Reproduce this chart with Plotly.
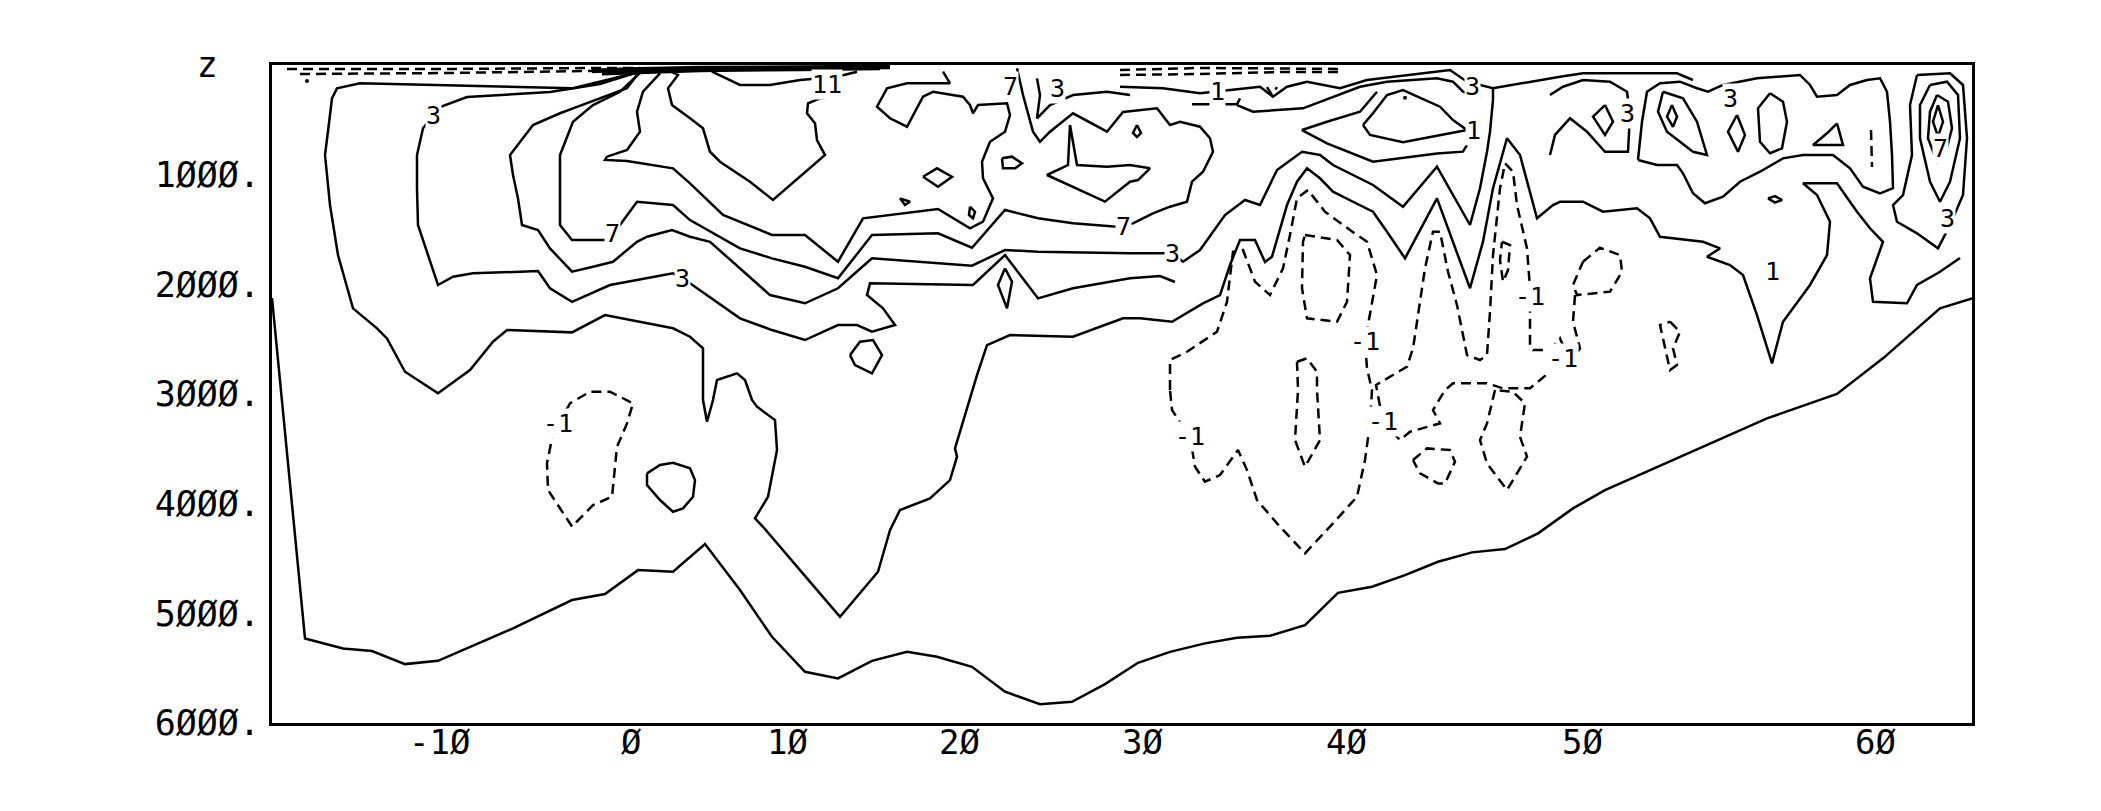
import plotly.graph_objects as go

# ---------------- axes data ----------------
# x = along-section distance (arbitrary units, 0..170); ticks carry the latitude of the stations
LAT_TICK_POS = [16.7, 35.9, 51.5, 68.7, 87.0, 107.4, 131.0, 160.3]
LAT_TICK_TEXT = ["-1Ø", "Ø", "1Ø", "2Ø", "3Ø", "4Ø", "5Ø", "6Ø"]
DEPTH_TICKS = [0, 1000, 2000, 3000, 4000, 5000, 6000]
DEPTH_TEXT = ["z\u00a0\u00a0", "1ØØØ.", "2ØØØ.", "3ØØØ.", "4ØØØ.", "5ØØØ.", "6ØØØ."]

# ---------------- contour lines (distance, depth m) ----------------
bottom = [(0, 2125), (0.97, 3055), (3.3, 5229), (7.1, 5320), (10.0, 5344), (13.3, 5463), (16.6, 5433),
          (24.1, 5137), (30.0, 4879), (33.3, 4824), (36.6, 4606), (40.1, 4621), (43.3, 4368), (46.8, 4788),
          (50.0, 5214), (53.3, 5533), (56.6, 5593), (60.0, 5433), (63.5, 5351), (66.5, 5396), (70.0, 5488),
          (73.3, 5715), (76.8, 5828), (80.0, 5807), (83.3, 5645), (86.6, 5451), (89.8, 5351), (93.3, 5274),
          (96.5, 5223), (99.8, 5205), (103.3, 5107), (106.6, 4813), (110.0, 4758), (113.3, 4651),
          (116.6, 4530), (120.0, 4444), (123.3, 4414), (126.6, 4271), (130.1, 4043), (133.3, 3876),
          (140.1, 3602), (149.5, 3222), (156.5, 3000), (161.1, 2675), (166.8, 2219), (170.0, 2128)]

c1_outer = [(37.1, 61), (35.5, 91), (30.1, 212), (20.8, 192), (8.8, 167), (6.5, 212), (6.0, 304), (5.8, 456),
            (5.3, 821), (5.8, 1277), (6.6, 1733), (8.1, 2219), (10.5, 2401), (11.5, 2493), (13.3, 2797),
            (16.6, 2994), (19.8, 2782), (22.1, 2523), (23.5, 2417), (30.0, 2438), (33.3, 2280), (40.1, 2401),
            (41.8, 2478), (43.1, 2584), (43.1, 3055), (43.5, 3253), (44.1, 3055), (44.5, 2873), (46.5, 2812),
            (47.3, 2873), (48.0, 3055), (48.5, 3116), (50.3, 3238), (50.5, 3511), (49.6, 3937), (48.3, 4134),
            (49.1, 4211), (52.8, 4606), (56.8, 5031), (60.6, 4621), (61.8, 4241), (62.8, 4058), (65.8, 3952),
            (67.8, 3785), (68.5, 3572), (68.3, 3496), (70.0, 2964), (70.5, 2827), (71.5, 2554), (73.8, 2462),
            (80.1, 2478), (85.1, 2310), (86.8, 2310), (90.0, 2341), (93.1, 2173), (94.8, 2098), (95.8, 1824),
            (96.8, 1596), (98.3, 1596), (99.3, 1797), (100.0, 1748), (101.5, 1277), (102.5, 1064),
            (103.5, 942), (104.8, 1033), (106.1, 1155), (108.1, 1247), (110.1, 1338), (111.5, 1520),
            (113.3, 1763), (116.5, 1216), (119.8, 2036), (121.1, 1611), (122.1, 1124), (123.5, 668),
            (124.8, 821), (126.5, 1398), (128.1, 1277), (128.8, 1247), (131.1, 1247), (133.1, 1338),
            (136.5, 1307), (137.8, 1398), (138.8, 1566), (143.1, 1612), (144.8, 1672), (143.5, 1748),
            (145.8, 1824), (147.1, 1915), (148.5, 2280), (150.0, 2721), (151.1, 2341), (153.8, 2006),
            (155.5, 1733), (155.8, 1429), (154.5, 1186), (153.1, 1079), (156.5, 1079), (158.5, 1338),
            (159.8, 1489), (161.1, 1612), (159.8, 1945), (160.1, 2159), (163.5, 2173), (164.5, 2006),
            (166.8, 1885), (168.8, 1760)]

c3_main = [(36.3, 73), (32.8, 173), (27.8, 246), (19.5, 292), (16.8, 383), (15.1, 577), (14.5, 821),
           (14.5, 1124), (14.6, 1459), (15.5, 1703), (16.6, 2006), (18.1, 1931), (20.1, 1900), (26.6, 1879),
           (27.8, 2036), (30.0, 2159), (33.8, 2006), (40.1, 1900), (41.8, 1991), (46.8, 2310), (50.0, 2417),
           (53.3, 2508), (56.6, 2371), (58.5, 2371), (60.0, 2432), (62.3, 2371), (61.1, 2219), (59.5, 2098),
           (59.8, 1991), (70.1, 2006), (73.3, 1733), (76.6, 2128), (80.1, 2036), (85.8, 1945), (88.8, 1924),
           (90.3, 1979)]

c5_line = [(36.5, 91), (35.5, 212), (30.1, 395), (28.8, 440), (26.1, 547), (24.8, 700), (23.8, 821),
           (24.1, 1003), (24.6, 1216), (25.0, 1459), (26.6, 1505), (27.8, 1672), (30.0, 1885), (32.1, 1840),
           (34.1, 1794), (36.5, 1612), (37.5, 1566), (40.0, 1505), (41.8, 1566), (43.8, 1612), (46.8, 1854),
           (49.8, 2098), (53.3, 2173), (56.6, 2036), (60.0, 1763), (70.0, 1830), (73.3, 1687), (76.6, 1703),
           (85.8, 1717), (86.6, 1717), (90.0, 1717), (91.1, 1794), (92.8, 1687), (95.3, 1368), (97.3, 1231),
           (98.8, 1277), (100.5, 958), (103.0, 791), (104.8, 821), (106.1, 912), (108.1, 1003),
           (110.1, 1094), (113.1, 1292), (116.5, 927), (119.8, 1459), (120.8, 1124), (121.5, 791),
           (121.8, 608), (122.1, 319), (122.1, 210)]

c7_line = [(37.1, 46), (34.8, 244), (32.1, 365), (30.1, 517), (28.8, 821), (28.8, 1459), (30.0, 1596),
           (33.8, 1596), (34.8, 1459), (36.5, 1247), (40.1, 1277), (41.8, 1414), (46.8, 1672), (50.0, 1763),
           (53.3, 1840), (56.6, 1945), (60.0, 1550), (66.6, 1535), (70.0, 1666), (73.3, 1322), (76.6, 1398),
           (80.1, 1444), (84.5, 1475), (86.1, 1444), (88.1, 1352), (89.8, 1292), (91.5, 1247), (91.8, 1124),
           (92.0, 1064), (93.1, 973), (94.1, 791), (93.8, 668), (92.8, 563), (90.8, 517), (89.8, 547),
           (88.5, 395), (86.8, 410), (85.1, 429), (83.5, 608), (80.1, 441), (77.8, 608), (76.8, 700),
           (76.1, 608), (75.1, 274), (74.5, 30)]

c9_line = [(38.8, 76), (37.1, 244), (36.5, 426), (36.8, 608), (35.5, 775), (33.5, 836), (33.3, 866),
           (35.5, 876), (40.1, 942), (41.8, 1079), (45.1, 1368), (50.0, 1550), (53.3, 1550), (56.6, 1794),
           (59.1, 1398), (66.6, 1313), (69.8, 1489), (71.1, 1429), (72.1, 1216), (71.1, 1033), (71.0, 882),
           (71.8, 700), (73.3, 608), (73.8, 456), (73.5, 349), (70.6, 365), (70.1, 440), (69.8, 365),
           (69.1, 289), (66.1, 244), (65.1, 289), (63.5, 563), (61.8, 486), (60.5, 380), (61.5, 213),
           (63.5, 167), (67.8, 167), (67.1, 61)]

c11_line = [(39.6, 46), (40.6, 91), (39.6, 212), (40.0, 365), (41.8, 486), (43.1, 577), (43.8, 791),
            (44.8, 882), (47.8, 1064), (50.1, 1231), (55.3, 821), (54.5, 684), (54.3, 532), (53.5, 440),
            (53.6, 349), (54.8, 304), (56.6, 292)]

top_loop = [(44.0, 61), (46.8, 182), (49.8, 182), (52.8, 137), (56.5, 107), (58.5, 61)]
top_band_a = [(32.0, 55), (35.5, 40), (42.8, 27), (52.8, 18), (61.8, 18)]
top_band_b = [(33.0, 75), (36.8, 64), (42.8, 46), (52.8, 36), (60.8, 27)]

g2_line = [(76.5, 122), (76.8, 274), (76.5, 486), (77.8, 365), (80.1, 274), (83.5, 244), (85.8, 274)]
spike_tongue = [(79.8, 547), (80.5, 912), (83.5, 927), (85.8, 912), (87.8, 942), (86.6, 1049), (85.8, 1064),
                (83.3, 1246), (77.5, 1003), (79.6, 912), (79.8, 547)]

u1_line = [(84.8, 198), (89.1, 212), (92.8, 258), (95.8, 228), (98.8, 198), (100.1, 289), (101.5, 198),
           (103.5, 152), (106.8, 212), (109.5, 137), (117.8, 46), (119.5, 152), (122.1, 212), (128.8, 107),
           (131.1, 76), (140.5, 76), (142.1, 137)]
u2_line = [(92.0, 358), (96.5, 358), (96.8, 304)]
u3_line = [(96.5, 365), (98.1, 426), (103.1, 395), (106.5, 274), (108.8, 198), (111.5, 152), (116.5, 121),
           (118.1, 152), (119.1, 243), (120.8, 304)]
tongue_1 = [(110.5, 244), (108.8, 426), (105.5, 517), (103.0, 593), (105.5, 714), (110.1, 882), (116.5, 806),
            (119.1, 790), (119.8, 684)]
dot_loop = [(109.1, 547), (110.1, 440), (111.5, 274), (113.1, 228), (116.8, 380), (118.1, 502),
            (119.5, 593), (113.1, 705), (109.8, 638), (109.1, 547)]

north_loop = [(136.6, 866), (138.5, 912), (140.5, 912), (141.1, 988), (142.1, 1170), (143.3, 1261),
              (145.1, 1201), (146.8, 1064), (148.8, 973), (151.1, 851), (153.1, 821), (156.1, 821),
              (157.8, 942), (159.1, 1110), (160.8, 1170), (162.1, 1124), (162.0, 821), (161.8, 517),
              (161.5, 244), (160.8, 121), (159.5, 137), (157.8, 182), (156.5, 274), (154.5, 289),
              (153.8, 182), (152.8, 91), (148.5, 121), (145.1, 182), (143.6, 244), (142.5, 212),
              (140.8, 152), (138.8, 167), (137.5, 244), (137.0, 517), (136.6, 866)]
west_lobe = [(127.8, 821), (128.3, 638), (129.8, 486), (131.5, 608), (133.3, 791), (135.6, 791),
             (135.8, 456), (135.5, 244), (133.8, 152), (131.1, 137), (129.1, 198), (127.8, 274)]

peak_a = [(164.5, 91), (167.8, 76), (169.1, 182), (169.5, 668), (169.1, 1186), (167.8, 1459), (166.6, 1672),
          (164.5, 1535), (162.5, 1429), (162.1, 1277), (163.1, 1186), (164.0, 821), (163.8, 365), (164.5, 91)]
peak_b = [(165.8, 182), (167.5, 152), (168.6, 274), (168.8, 668), (167.8, 1064), (166.8, 1247),
          (165.8, 1064), (164.8, 668), (164.8, 365), (165.8, 182)]
peak_c = [(166.5, 274), (167.6, 335), (168.0, 577), (167.3, 821), (166.5, 882), (165.6, 668), (165.8, 426),
          (166.5, 274)]
peak_d = [(166.6, 365), (167.1, 517), (166.6, 654), (166.1, 517), (166.6, 365)]

small_solid = [
    [(37.5, 3724), (38.8, 3648), (40.1, 3627), (41.8, 3678), (42.3, 3785), (42.1, 3937), (41.1, 4043),
     (40.1, 4074), (38.8, 3967), (37.5, 3830), (37.5, 3724)],
    [(65.1, 1019), (66.5, 942), (68.0, 1019), (66.6, 1110), (65.1, 1019)],
    [(62.8, 1216), (63.8, 1247), (63.3, 1277), (62.8, 1216)],
    [(69.8, 1292), (70.3, 1338), (70.1, 1398), (69.7, 1368), (69.8, 1292)],
    [(73.0, 851), (74.0, 836), (75.0, 897), (74.3, 942), (73.1, 942), (73.0, 851)],
    [(57.8, 2645), (58.8, 2523), (60.1, 2508), (61.0, 2645), (60.0, 2812), (58.3, 2736), (57.8, 2645)],
    [(73.3, 1854), (74.0, 1976), (73.5, 2219), (72.6, 2006), (73.3, 1854)],
    [(86.5, 547), (86.9, 620), (86.5, 657), (86.1, 620), (86.5, 547)],
    [(133.3, 365), (134.1, 517), (133.3, 638), (132.1, 471), (133.3, 365)],
    [(140.0, 365), (140.5, 471), (140.1, 563), (139.5, 471), (140.0, 365)],
    [(139.1, 244), (141.1, 304), (142.5, 517), (143.5, 821), (142.1, 791), (139.5, 608), (138.6, 426),
     (139.1, 244)],
    [(146.5, 456), (147.3, 638), (146.6, 791), (145.6, 608), (146.5, 456)],
    [(149.8, 258), (151.1, 335), (151.5, 517), (151.0, 760), (149.8, 805), (148.8, 700), (148.6, 395),
     (149.8, 258)],
    [(156.5, 532), (157.1, 730), (154.1, 730), (155.5, 623), (156.5, 532)],
    [(149.6, 1216), (150.3, 1195), (151.0, 1231), (150.3, 1254), (149.6, 1216)],
]

# negative (dashed) contours
neg_surface_a = [(1.5, 36), (17.8, 36), (32.8, 27), (36.8, 27)]
neg_surface_b = [(2.8, 82), (17.8, 73), (30.8, 55), (36.8, 46)]
neg_surface_c = [(84.8, 46), (92.8, 27), (106.8, 36)]
neg_surface_d = [(84.8, 91), (92.8, 82), (100.8, 64), (106.8, 64)]
neg_cup = [(99.5, 201), (100.0, 274), (100.5, 201)]
neg_west = [(30.0, 4208), (27.6, 3876), (27.5, 3632), (28.1, 3359), (29.8, 3085), (31.8, 2979), (33.8, 2979),
            (36.1, 3085), (35.5, 3268), (34.5, 3481), (34.0, 3937), (32.1, 4013), (30.0, 4208)]
neg_big = [(89.8, 2964), (89.8, 2690), (91.5, 2615), (94.5, 2432), (95.5, 2159), (96.1, 1703), (97.1, 1687),
           (98.3, 1976), (99.8, 2098), (101.1, 1854), (101.8, 1550), (102.5, 1216), (103.6, 1140),
           (105.3, 1338), (107.8, 1505), (109.5, 1612), (110.5, 1915), (109.8, 2280), (109.3, 2523),
           (109.5, 2766), (110.0, 2964), (109.8, 3268), (109.3, 3602), (108.5, 3937), (106.1, 4180),
           (103.3, 4453), (100.5, 4180), (98.5, 3967), (97.5, 3694), (96.6, 3511), (94.8, 3739),
           (93.3, 3800), (92.3, 3663), (91.8, 3390), (91.3, 3329), (90.0, 3146), (89.8, 2964)]
neg_east = [(111.1, 3253), (110.4, 2918), (113.5, 2751), (114.1, 2584), (115.3, 1854), (116.1, 1520),
            (116.8, 1520), (117.6, 1885), (118.5, 2189), (119.5, 2645), (120.8, 2690), (121.5, 2645),
            (121.8, 2250), (122.1, 1733), (122.8, 1125), (123.3, 896), (124.1, 973), (124.5, 1277),
            (125.5, 1672), (125.8, 2036), (125.8, 2554), (126.1, 2599), (127.8, 2599), (128.8, 2493),
            (129.4, 2617), (128.8, 2751), (127.8, 2797), (125.8, 2948), (123.1, 2948), (121.5, 2903),
            (118.1, 2903), (117.3, 2964), (116.1, 3146), (116.8, 3268), (113.8, 3344), (112.8, 3420),
            (111.1, 3253)]
neg_small = [
    [(103.3, 1550), (106.5, 1596), (107.8, 1733), (107.5, 2159), (106.5, 2341), (103.5, 2310), (103.0, 2036),
     (103.1, 1612), (103.3, 1550)],
    [(102.5, 2706), (103.5, 2675), (104.5, 2797), (104.5, 2964), (104.8, 3420), (103.3, 3663), (102.3, 3420),
     (102.6, 2964), (102.5, 2706)],
    [(114.1, 3602), (115.5, 3496), (117.8, 3511), (118.3, 3618), (117.3, 3815), (116.6, 3815), (114.8, 3724),
     (114.1, 3602)],
    [(122.3, 2964), (121.5, 3268), (120.8, 3420), (121.5, 3633), (123.5, 3876), (125.5, 3572), (124.8, 3390),
     (125.3, 3085), (124.1, 2979), (122.3, 2964)],
    [(123.0, 1612), (123.8, 1642), (123.6, 1870), (123.1, 1976), (122.8, 1778), (123.0, 1612)],
    [(131.1, 1794), (132.8, 1666), (134.8, 1733), (135.0, 1885), (133.8, 2067), (130.5, 2098), (130.1, 2006),
     (131.1, 1794)],
    [(130.3, 2098), (130.1, 2341), (130.8, 2584), (129.8, 2706)],
    [(139.8, 2341), (140.8, 2432), (140.1, 2584), (140.5, 2736), (139.8, 2782), (138.8, 2371), (139.8, 2341)],
    [(159.9, 593), (160.0, 930)],
]

# contour labels (distance, depth, text)
labels = [(16.1, 456, "3"), (28.6, 3268, "-1"), (34.0, 1535, "7"), (41.0, 1945, "3"), (55.5, 182, "11"),
          (73.8, 200, "7"), (78.5, 212, "3"), (85.1, 1477, "7"), (90.0, 1717, "3"), (94.5, 243, "1"),
          (91.8, 3390, "-1"), (109.3, 2523, "-1"), (111.1, 3253, "-1"), (125.8, 2113, "-1"),
          (129.1, 2675, "-1"), (120.0, 200, "3"), (120.1, 593, "1"), (135.5, 440, "3"), (145.8, 304, "3"),
          (166.8, 760, "7"), (167.5, 1398, "3"), (150.0, 1885, "1")]

# ---------------- figure ----------------
LW = 2.5
fig = go.Figure()

solid_lines = [bottom, c1_outer, c3_main, c5_line, c7_line, c9_line, c11_line, top_loop, g2_line,
               spike_tongue, u1_line, u2_line, u3_line, tongue_1, dot_loop, north_loop, west_lobe,
               peak_a, peak_b, peak_c, peak_d] + small_solid
dashed_lines = [neg_surface_a, neg_surface_b, neg_surface_c, neg_surface_d, neg_cup, neg_west, neg_big,
                neg_east] + neg_small

for ln in solid_lines:
    fig.add_trace(go.Scatter(x=[p[0] for p in ln], y=[p[1] for p in ln], mode="lines",
                             line=dict(color="black", width=LW), hoverinfo="skip"))
for ln in [top_band_a, top_band_b]:
    fig.add_trace(go.Scatter(x=[p[0] for p in ln], y=[p[1] for p in ln], mode="lines",
                             line=dict(color="black", width=4.5), hoverinfo="skip"))
for ln in dashed_lines:
    fig.add_trace(go.Scatter(x=[p[0] for p in ln], y=[p[1] for p in ln], mode="lines",
                             line=dict(color="black", width=LW, dash="10px,6px"), hoverinfo="skip"))

fig.add_trace(go.Scatter(x=[3.5, 113.3], y=[146, 298], mode="markers",
                         marker=dict(color="black", size=4), hoverinfo="skip"))

for (x, y, t) in labels:
    fig.add_annotation(x=x, y=y, text=t, showarrow=False, bgcolor="white", borderpad=0,
                       font=dict(family="DejaVu Sans Mono", size=25, color="black"))

# latitude labels under the frame
for pos, txt in zip(LAT_TICK_POS, LAT_TICK_TEXT):
    fig.add_annotation(x=pos, xref="x", y=0, yref="paper", yanchor="middle", yshift=-19,
                       text=txt, showarrow=False,
                       font=dict(family="DejaVu Sans Mono", size=34, color="black"))

fig.update_layout(
    width=2101, height=811,
    margin=dict(l=272, r=129, t=65, b=88),
    paper_bgcolor="white", plot_bgcolor="white",
    showlegend=False, hovermode=False,
    xaxis=dict(range=[0, 170], showticklabels=False, showgrid=False,
               zeroline=False, showline=True, mirror=True, linecolor="black", linewidth=3, ticks=""),
    yaxis=dict(range=[6000, 0], tickvals=DEPTH_TICKS, ticktext=DEPTH_TEXT, showgrid=False,
               zeroline=False, showline=True, mirror=True, linecolor="black", linewidth=3, ticks="",
               ticklabelstandoff=2,
               tickfont=dict(family="DejaVu Sans Mono", size=35, color="black")),
)

fig.write_html("out.html", config={"displayModeBar": False},
               post_script="document.body.style.margin='0px';")
